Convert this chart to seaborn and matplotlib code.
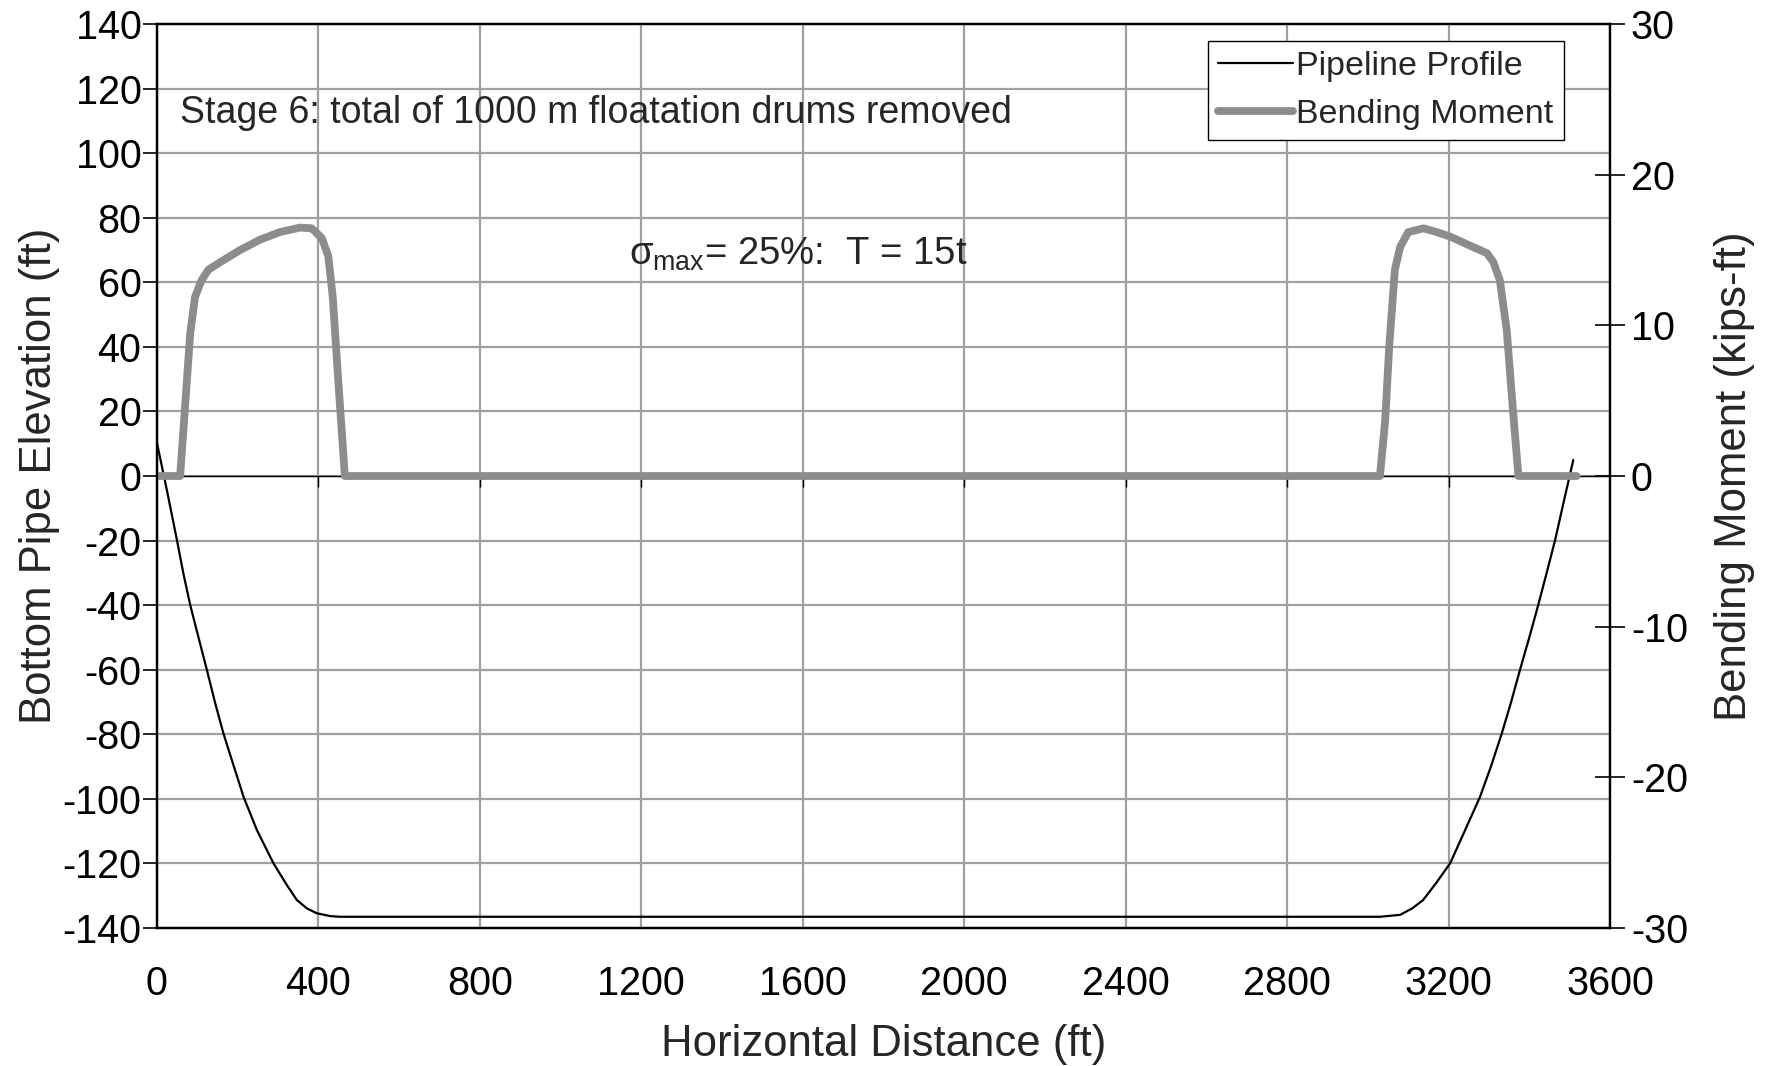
import numpy as np
import pandas as pd
import seaborn as sns
import matplotlib
matplotlib.use("Agg")
import matplotlib.pyplot as plt
from matplotlib.lines import Line2D

# ---- data ----
profile_x = [0, 25, 50, 66, 83, 103, 124, 144, 165, 190, 215, 248, 289, 322, 347, 372, 396, 430, 454,
             3030, 3080, 3110, 3137, 3170, 3204, 3240, 3278, 3305, 3332, 3355, 3377, 3400, 3422, 3443,
             3464, 3487, 3509]
profile_elev = [10.6, -4.3, -19.8, -30.2, -40.0, -49.8, -60.0, -70.0, -79.7, -89.6, -99.4, -109.7, -120.0,
                -126.7, -131.4, -134.0, -135.5, -136.4, -136.6,
                -136.6, -136.0, -134.0, -131.4, -126.0, -120.0, -110.0, -99.4, -90.0, -79.7, -70.0, -60.0,
                -50.0, -40.0, -30.0, -19.8, -7.0, 5.0]

moment_x = [0, 58, 83, 95, 111, 128, 157, 206, 256, 305, 355, 384, 409, 425, 436, 450, 466,
            3030, 3043, 3053, 3059, 3067, 3080, 3100, 3138, 3171, 3204, 3253, 3295, 3311, 3327, 3344,
            3360, 3373, 3517]
moment_val = [0, 0, 9.5, 11.9, 13.0, 13.7, 14.2, 15.0, 15.7, 16.2, 16.5, 16.45, 15.8, 14.6, 11.9, 6.2, 0,
              0, 3.7, 8.6, 10.8, 13.7, 15.2, 16.2, 16.45, 16.2, 15.9, 15.3, 14.8, 14.2, 13.0, 9.7,
              4.2, 0, 0]

x_ticks = [0, 400, 800, 1200, 1600, 2000, 2400, 2800, 3200, 3600]
left_ticks = list(range(-140, 141, 20))
right_ticks = [-30, -20, -10, 0, 10, 20, 30]

profile_df = pd.DataFrame({"x": profile_x, "y": profile_elev})
moment_df = pd.DataFrame({"x": moment_x, "y": moment_val})

sns.set_style("white")
plt.rcParams["font.family"] = ["Liberation Sans", "DejaVu Sans"]
plt.rcParams["mathtext.fontset"] = "custom"
plt.rcParams["mathtext.rm"] = "Liberation Sans"
plt.rcParams["mathtext.it"] = "Liberation Sans"

fig = plt.figure(figsize=(17.73, 10.66), dpi=100)
ax = fig.add_axes([0.0884, 0.1297, 0.8197, 0.8475])
ax2 = ax.twinx()

grid_col = "#a0a0a0"
ax.set_xlim(0, 3600)
ax.set_ylim(-140, 140)
ax2.set_ylim(-30, 30)
ax.set_xticks(x_ticks)
ax.set_yticks(left_ticks)
ax2.set_yticks(right_ticks)
ax.grid(True, color=grid_col, linewidth=1.6)
ax.set_axisbelow(True)

# zero axis line with small tick marks
ax.axhline(0, color="black", linewidth=1.0, zorder=1)
ax.vlines(x_ticks[1:-1], -3.5, 0, color="black", linewidth=1.0, zorder=1)

sns.lineplot(data=profile_df, x="x", y="y", ax=ax, color="black", linewidth=1.6, sort=False,
             legend=False, zorder=3)
sns.lineplot(data=moment_df, x="x", y="y", ax=ax2, color="#8c8c8c", linewidth=5.6, sort=False,
             legend=False, zorder=2)

for a in (ax, ax2):
    for s in a.spines.values():
        s.set_color("black")
        s.set_linewidth(1.6)

ax.tick_params(axis="y", direction="out", length=10, width=1.2, labelsize=28.5, pad=1, colors="black")
ax.tick_params(axis="x", length=0, labelsize=28.5, pad=27, colors="black")
ax2.tick_params(axis="y", direction="inout", length=22, width=1.2, labelsize=28.5, pad=4, colors="black")
ax.set_xticklabels([str(t) for t in x_ticks])
ax.set_yticklabels([str(t) for t in left_ticks])
ax2.set_yticklabels([str(t) for t in right_ticks])

ax.set_xlabel("Horizontal Distance (ft)", fontsize=31.5, labelpad=15)
ax.set_ylabel("Bottom Pipe Elevation (ft)", fontsize=31.5, labelpad=2)
ax2.set_ylabel("Bending Moment (kips-ft)", fontsize=31.5, labelpad=19)

ax.text(0.016, 0.902, "Stage 6: total of 1000 m floatation drums removed", transform=ax.transAxes,
        fontsize=27, va="center", ha="left")
ax.text(0.325, 0.745, r"$\sigma_{\mathrm{max}}$= 25%:  T = 15t", transform=ax.transAxes,
        fontsize=27.5, va="center", ha="left")

handles = [Line2D([], [], color="black", linewidth=1.6),
           Line2D([], [], color="#8c8c8c", linewidth=5.6)]
leg = ax2.legend(handles, ["Pipeline Profile", "Bending Moment"], loc="upper right",
                 bbox_to_anchor=(0.968, 0.982), fontsize=24.5, frameon=True, fancybox=False,
                 framealpha=1, edgecolor="black", handlelength=2.2, handletextpad=0.1,
                 borderpad=0.3, labelspacing=0.5, borderaxespad=0)
leg.get_frame().set_linewidth(1.0)

fig.savefig("out.png", dpi=100, facecolor="white")
